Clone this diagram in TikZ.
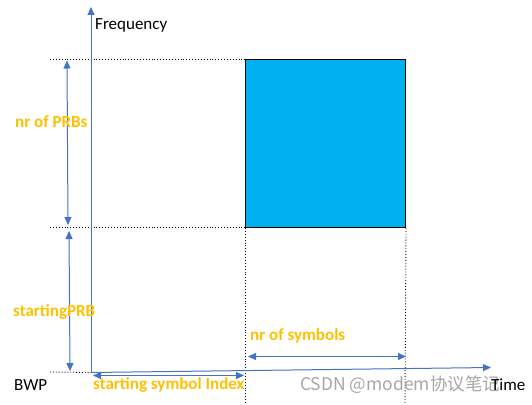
\documentclass[tikz,border=0pt]{standalone}
\usepackage{fontspec}
\setmainfont{Carlito}
\newfontfamily\cjkfont{Noto Sans CJK SC}
\usetikzlibrary{arrows.meta}
\definecolor{axisblue}{HTML}{4472C4}
\definecolor{labelorange}{HTML}{FFC000}
\definecolor{boxblue}{HTML}{00B0F0}
\tikzset{
  axis/.style={draw=axisblue, line width=1pt, -{Triangle[length=8pt,width=7pt]}},
  dim/.style={draw=axisblue, line width=1pt, {Triangle[length=8pt,width=7pt]}-{Triangle[length=8pt,width=7pt]}},
  guide/.style={draw=black, line width=0.9pt, dotted},
  lbl/.style={text=labelorange, font=\fontsize{17}{20}\selectfont\bfseries, inner sep=0pt, anchor=west},
  plain/.style={text=black, font=\fontsize{17}{20}\selectfont, inner sep=0pt, anchor=west},
  wmark/.style={font=\cjkfont\fontsize{17.5}{20}\selectfont, text=black!35, inner sep=0pt, anchor=west}
}
\begin{document}
\begin{tikzpicture}[x=1pt,y=-1pt]
\useasboundingbox (0,0) rectangle (532,404);
% coordinates
\coordinate (o) at (91,372.5);
\coordinate (ftip) at (91,7);
\coordinate (ttip) at (491,367.5);
\coordinate (tl) at (50,59);
\coordinate (tr) at (405,59);
\coordinate (ml) at (50,227);
\coordinate (mr) at (405,227);
\coordinate (bl) at (50,372);
\coordinate (v1b) at (245,404);
\coordinate (v2b) at (405,404);
% box
\node[draw=black, line width=1pt, fill=boxblue, minimum width=160pt, minimum height=168pt, inner sep=0pt, anchor=north west] (box) at (245,59) {};
% guides
\draw[guide] (tl) -- (tr);
\draw[guide] (ml) -- (mr);
\draw[guide] (bl) -- (o);
\draw[guide] (box.south west) -- (v1b);
\draw[guide] (box.south east) -- (v2b);
% axes
\draw[axis] (o) -- (ftip);
\draw[axis] (o) -- (ttip);
% dimension arrows
\coordinate (a1t) at (67,60.5);
\coordinate (a1b) at (68,225);
\coordinate (a2t) at (69,231);
\coordinate (a2b) at (70,371);
\coordinate (s1l) at (93,375.5);
\coordinate (s1r) at (244,375.5);
\coordinate (s2l) at (248,356.5);
\coordinate (s2r) at (406,356.5);
\draw[dim] (a1t) -- (a1b);
\draw[dim] (a2t) -- (a2b);
\draw[dim] (s1l) -- (s1r);
\draw[dim] (s2l) -- (s2r);
% labels
\node[plain] (freq) at (95,25) {Frequency};
\node[lbl] (nprb) at (15,121.5) {nr of PRBs};
\node[lbl] (sprb) at (13,312) {startingPRB};
\node[plain] (bwp) at (14,385) {BWP};
\node[lbl] (ssi) at (93,385) {starting symbol Index};
\node[lbl] (nsym) at (250,336) {nr of symbols};
\node[wmark] (wm) at (300,385) {CSDN @modem协议笔记};
\node[plain] (time) at (491,385) {Time};
\end{tikzpicture}
\end{document}
